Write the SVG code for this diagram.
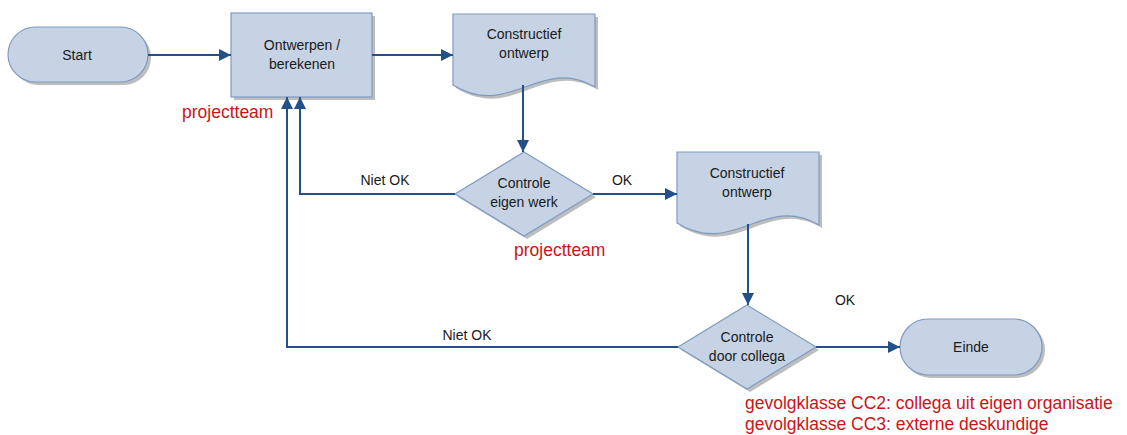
<svg xmlns="http://www.w3.org/2000/svg" width="1127" height="435" viewBox="0 0 1127 435">
<style>
.shape{fill:#C5D3E5;stroke:#7E9BC1;stroke-width:1.2}
.shadow{fill:#BDBDBD}
.t{font-family:"Liberation Sans",Arial,sans-serif;font-size:14px;fill:#1a1a1a;text-anchor:middle}
.lbl{font-family:"Liberation Sans",Arial,sans-serif;font-size:14px;fill:#1a1a1a;text-anchor:middle}
.red{font-family:"Liberation Sans",Arial,sans-serif;font-size:17.5px;fill:#CC1417}
.c{fill:none;stroke:#24508A;stroke-width:2}
</style>
<defs>
<marker id="ah" markerUnits="userSpaceOnUse" markerWidth="14" markerHeight="12" refX="12" refY="6" orient="auto">
<path d="M0,0 L12,6 L0,12 Z" fill="#24508A"/>
</marker>
<path id="doc" d="M0,0 H142 V73 C87,41 57,106 0,71 Z"/>
</defs>
<rect width="1127" height="435" fill="#ffffff"/>
<g id="start">
<rect class="shadow" x="11" y="30" width="140" height="55" rx="27.5"/>
<rect class="shape" x="8" y="27" width="140" height="55" rx="27.5"/>
<text class="t" x="77" y="60">Start</text>
</g>
<g id="ontwerpen">
<rect class="shadow" x="234" y="16" width="141" height="84"/>
<rect class="shape" x="231" y="13" width="141" height="84"/>
<text class="t" x="302" y="50">Ontwerpen /</text>
<text class="t" x="302" y="69">berekenen</text>
<text class="red" x="182" y="118">projectteam</text>
</g>
<g id="doc1">
<use href="#doc" class="shadow" x="456" y="17"/>
<use href="#doc" class="shape" x="453" y="14"/>
<text class="t" x="524" y="39">Constructief</text>
<text class="t" x="524" y="58">ontwerp</text>
</g>
<g id="controle1">
<path class="shadow" d="M527,155 L596,197 L527,239 L458,197 Z"/>
<path class="shape" d="M524,152 L593,194 L524,236 L455,194 Z"/>
<text class="t" x="524" y="188">Controle</text>
<text class="t" x="524" y="207">eigen werk</text>
<text class="red" x="514" y="256">projectteam</text>
</g>
<g id="doc2">
<use href="#doc" class="shadow" x="680" y="155"/>
<use href="#doc" class="shape" x="677" y="152"/>
<text class="t" x="747" y="178">Constructief</text>
<text class="t" x="747" y="197">ontwerp</text>
</g>
<g id="controle2">
<path class="shadow" d="M750,308 L819,350 L750,392 L681,350 Z"/>
<path class="shape" d="M747,305 L816,347 L747,389 L678,347 Z"/>
<text class="t" x="747" y="342">Controle</text>
<text class="t" x="747" y="361">door collega</text>
<text class="red" x="745" y="409">gevolgklasse CC2: collega uit eigen organisatie</text>
<text class="red" x="745" y="430">gevolgklasse CC3: externe deskundige</text>
</g>
<g id="einde">
<rect class="shadow" x="903" y="322" width="142" height="56" rx="28"/>
<rect class="shape" x="900" y="319" width="142" height="56" rx="28"/>
<text class="t" x="971" y="352">Einde</text>
</g>
<g id="connectors">
<path class="c" d="M148,55 H231" marker-end="url(#ah)"/>
<path class="c" d="M372,55 H453" marker-end="url(#ah)"/>
<path class="c" d="M523,85 V152" marker-end="url(#ah)"/>
<path class="c" d="M455,194 H300 V97" marker-end="url(#ah)"/>
<path class="c" d="M593,194 H677" marker-end="url(#ah)"/>
<path class="c" d="M748,224 V305" marker-end="url(#ah)"/>
<path class="c" d="M678,347 H287 V97" marker-end="url(#ah)"/>
<path class="c" d="M816,347 H900" marker-end="url(#ah)"/>
<text class="lbl" x="385" y="185">Niet OK</text>
<text class="lbl" x="622" y="185">OK</text>
<text class="lbl" x="467" y="340">Niet OK</text>
<text class="lbl" x="845" y="305">OK</text>
</g>
</svg>
